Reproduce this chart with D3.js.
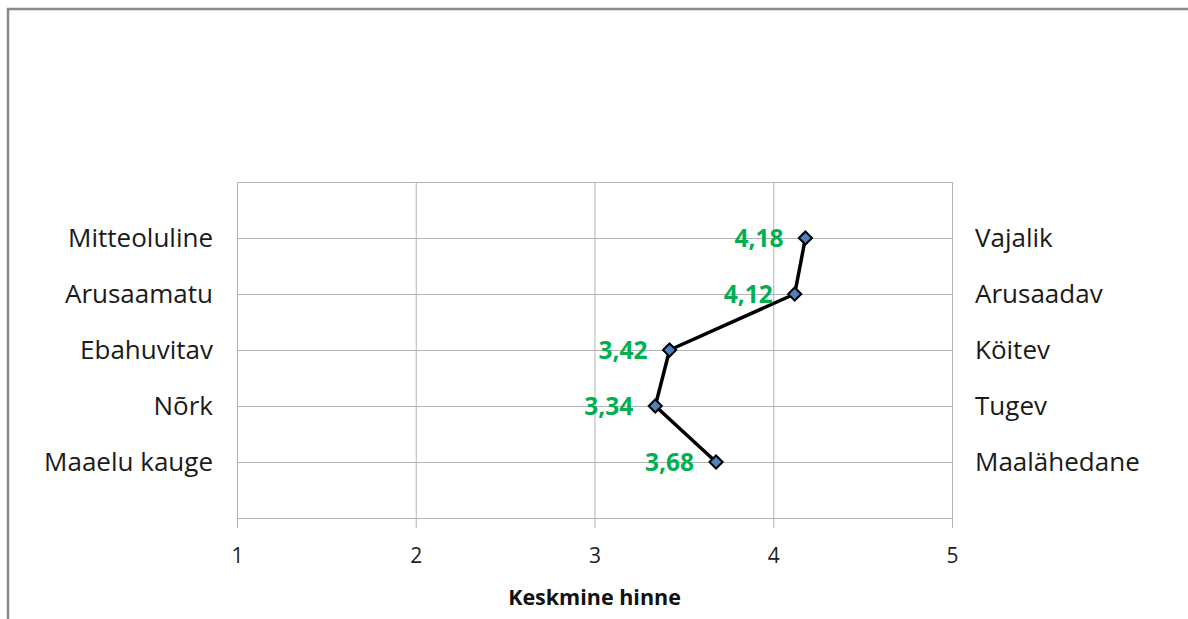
<!DOCTYPE html>
<html>
<head>
<meta charset="utf-8">
<script src="https://cdn.jsdelivr.net/npm/d3@7"></script>
<style>
  html, body { margin: 0; padding: 0; background: #fff; }
  svg { display: block; }
  text { font-family: "Open Sans", "Noto Sans", sans-serif; }
</style>
</head>
<body>
<svg id="chart" width="1188" height="619"></svg>
<script>
// Semantic differential: mean score per adjective pair
const leftLabels  = ["Mitteoluline", "Arusaamatu", "Ebahuvitav", "Nõrk", "Maaelu kauge"];
const rightLabels = ["Vajalik", "Arusaadav", "Köitev", "Tugev", "Maalähedane"];
const meanScores  = [4.18, 4.12, 3.42, 3.34, 3.68];
const xTicks      = [1, 2, 3, 4, 5];
const xTitle      = "Keskmine hinne";

const svg = d3.select("#chart");
const W = 1188, H = 619;
const plot = { left: 237, right: 952, top: 182, bottom: 518 };

// Outer frame (only top and left edges fall inside the view)
svg.append("path")
  .attr("d", `M8,${H} V9 H${W}`)
  .attr("fill", "none")
  .attr("stroke", "#8a8a8a")
  .attr("stroke-width", 2.5);

const x = d3.scaleLinear().domain([1, 5]).range([plot.left, plot.right]);
const y = d3.scalePoint()
  .domain(d3.range(leftLabels.length))
  .range([plot.top, plot.bottom])
  .padding(1);

const gridColor = "#b3b3b3";

// Vertical gridlines + bottom axis with outward ticks
const xAxis = d3.axisBottom(x)
  .tickValues(xTicks)
  .tickSize(plot.bottom - plot.top)
  .tickFormat(d3.format("d"));
const gx = svg.append("g")
  .attr("transform", `translate(0,${plot.top})`)
  .call(xAxis);
gx.select(".domain").remove();
gx.selectAll(".tick line").attr("stroke", gridColor).attr("y2", plot.bottom - plot.top + 10);
gx.selectAll(".tick text")
  .attr("y", plot.bottom - plot.top + 38)
  .attr("dy", "0.35em")
  .attr("fill", "#222")
  .style("font-size", "21px");

// Horizontal gridlines at each pair
const gy = svg.append("g")
  .attr("transform", `translate(${plot.left},0)`)
  .call(d3.axisRight(y).tickSize(plot.right - plot.left).tickFormat(""));
gy.select(".domain").remove();
gy.selectAll(".tick line").attr("stroke", gridColor);

// Plot frame top and bottom edges
svg.append("line").attr("x1", plot.left).attr("x2", plot.right)
  .attr("y1", plot.top + 0.5).attr("y2", plot.top + 0.5).attr("stroke", gridColor);
svg.append("line").attr("x1", plot.left).attr("x2", plot.right)
  .attr("y1", plot.bottom + 0.5).attr("y2", plot.bottom + 0.5).attr("stroke", gridColor);

// Left / right pair labels
svg.append("g").selectAll("text").data(leftLabels).join("text")
  .attr("x", plot.left - 24)
  .attr("y", (d, i) => y(i))
  .attr("dy", "0.36em")
  .attr("text-anchor", "end")
  .attr("fill", "#1a1a1a")
  .style("font-size", "26px")
  .text(d => d);

svg.append("g").selectAll("text").data(rightLabels).join("text")
  .attr("x", plot.right + 23)
  .attr("y", (d, i) => y(i))
  .attr("dy", "0.36em")
  .attr("text-anchor", "start")
  .attr("fill", "#1a1a1a")
  .style("font-size", "26px")
  .text(d => d);

// Axis title
svg.append("text")
  .attr("x", (plot.left + plot.right) / 2)
  .attr("y", 597)
  .attr("dy", "0.35em")
  .attr("text-anchor", "middle")
  .attr("fill", "#111")
  .style("font-size", "21.5px")
  .style("font-weight", "bold")
  .text(xTitle);

// Profile line
const line = d3.line()
  .x(d => x(d))
  .y((d, i) => y(i));
svg.append("path")
  .datum(meanScores)
  .attr("d", line)
  .attr("fill", "none")
  .attr("stroke", "#000")
  .attr("stroke-width", 3.5)
  .attr("stroke-linejoin", "round");

// Diamond markers
const diamond = d3.symbol().type(d3.symbolDiamond2).size(110);
svg.append("g").selectAll("path").data(meanScores).join("path")
  .attr("transform", (d, i) => `translate(${x(d)},${y(i)})`)
  .attr("d", diamond)
  .attr("fill", "#4f81bd")
  .attr("stroke", "#000")
  .attr("stroke-width", 2);

// Value labels
const fmt = v => d3.format(".2f")(v).replace(".", ",");
svg.append("g").selectAll("text").data(meanScores).join("text")
  .attr("x", d => x(d) - 22)
  .attr("y", (d, i) => y(i))
  .attr("dy", "0.36em")
  .attr("text-anchor", "end")
  .attr("fill", "#00b050")
  .style("font-size", "24.5px")
  .style("font-weight", "bold")
  .text(fmt);
</script>
</body>
</html>
